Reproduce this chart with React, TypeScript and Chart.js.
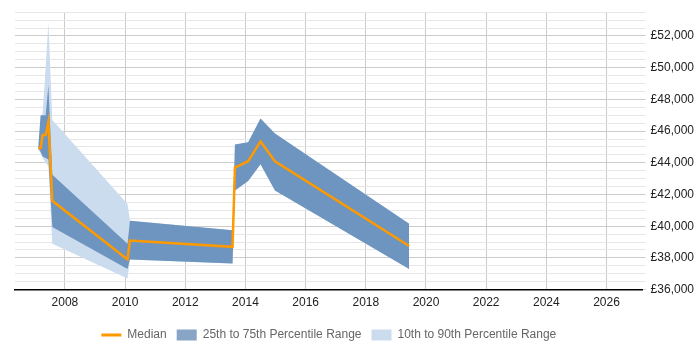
import React, { useEffect, useRef } from "react";
import { Chart, registerables } from "chart.js";

Chart.register(...registerables);

const years = [2007.11, 2007.19, 2007.26, 2007.36, 2007.45, 2007.58, 2010.08, 2010.16, 2013.57, 2013.65, 2014.09, 2014.5, 2014.98, 2019.44];
const median = [44920, 44920, 45750, 45750, 46580, 41600, 37900, 39100, 38700, 43700, 44100, 45350, 44100, 38750];
const p75 = [44920, 47000, 47000, 47000, 48900, 43250, 38900, 40350, 39750, 45150, 45300, 46800, 45850, 40150];
const p25 = [44920, 44700, 44400, 44300, 44200, 39950, 37300, 37900, 37650, 42250, 42850, 43900, 42250, 37300];
const p90 = [44920, 46500, 47200, 50000, 52900, 46700, 41400, 40350, 39750, 45150, 45300, 46800, 45850, 40150];
const p10 = [44920, 44600, 44300, 44000, 43800, 38900, 36700, 37900, 37650, 42250, 42850, 43900, 42250, 37300];

const xTicks = [2008, 2010, 2012, 2014, 2016, 2018, 2020, 2022, 2024, 2026];
const yMin = 36000;
const yMax = 53500;
const yStep = 500;
const yLabelStep = 2000;

const legendLabels = ["Median", "25th to 75th Percentile Range", "10th to 90th Percentile Range"];

const ORANGE = "#ff9900";
const DARK = "#6e95bf";
const LIGHT = "#cbdcee";
const DARK_LEGEND = "#88a5c6";
const FONT = "'Liberation Sans', Arial, sans-serif";

const pts = (vals: number[]) => years.map((x, i) => ({ x, y: vals[i] }));

export default function App() {
  const ref = useRef<HTMLCanvasElement | null>(null);
  useEffect(() => {
    if (!ref.current) return;
    const yTicks: number[] = [];
    for (let v = yMin; v <= yMax; v += yStep) yTicks.push(v);
    const chart = new Chart(ref.current, {
      type: "line",
      data: {
        datasets: [
          { label: legendLabels[0], data: pts(median), borderColor: ORANGE, borderWidth: 2.5, pointRadius: 0, fill: false, tension: 0 },
          { label: legendLabels[1], data: pts(p75), borderWidth: 0, pointRadius: 0, backgroundColor: DARK, fill: "+1", tension: 0 },
          { label: "p25", data: pts(p25), borderWidth: 0, pointRadius: 0, fill: false, tension: 0 },
          { label: legendLabels[2], data: pts(p90), borderWidth: 0, pointRadius: 0, backgroundColor: LIGHT, fill: "+1", tension: 0 },
          { label: "p10", data: pts(p10), borderWidth: 0, pointRadius: 0, fill: false, tension: 0 },
        ],
      },
      options: {
        responsive: false,
        animation: false,
        layout: { padding: { left: 15, top: 8, right: 1, bottom: -1 } },
        font: { family: FONT, size: 12 },
        plugins: {
          tooltip: { enabled: false },
          legend: {
            position: "bottom",
            fullSize: false,
            title: { display: true, text: " ", padding: 0, font: { size: 2.5, family: FONT } },
            labels: {
              usePointStyle: true,
              pointStyleWidth: 20,
              boxHeight: 11,
              padding: 10,
              color: "#222",
              font: { family: FONT, size: 12 },
              generateLabels: () => [
                { text: legendLabels[0], pointStyle: "line", strokeStyle: ORANGE, fillStyle: ORANGE, lineWidth: 3, datasetIndex: 0, hidden: false },
                { text: legendLabels[1], pointStyle: "rect", strokeStyle: DARK_LEGEND, fillStyle: DARK_LEGEND, lineWidth: 0, datasetIndex: 1, hidden: false },
                { text: legendLabels[2], pointStyle: "rect", strokeStyle: LIGHT, fillStyle: LIGHT, lineWidth: 0, datasetIndex: 3, hidden: false },
              ] as any,
            },
          },
        },
        scales: {
          x: {
            type: "linear",
            min: 2006.34,
            max: 2027.2,
            afterBuildTicks: (scale: any) => {
              scale.ticks = xTicks.map((v) => ({ value: v }));
            },
            ticks: {
              autoSkip: false,
              maxRotation: 0,
              color: "#222",
              padding: 6,
              font: { family: FONT, size: 12 },
              callback: (v: any) => String(v),
            },
            grid: { color: "#cccccc", tickLength: 0, drawTicks: false },
            border: { color: "#000000", width: 1.5 },
          },
          y: {
            type: "linear",
            position: "right",
            min: yMin,
            max: yMax,
            afterBuildTicks: (scale: any) => {
              scale.ticks = yTicks.map((v) => ({ value: v }));
            },
            ticks: {
              autoSkip: false,
              color: "#222",
              padding: 5,
              font: { family: FONT, size: 12 },
              callback: (v: any) => (Number(v) % yLabelStep === 0 ? "£" + Number(v).toLocaleString("en-GB") : ""),
            },
            grid: {
              color: (ctx: any) => (ctx.tick && ctx.tick.value % yLabelStep === 0 ? "#cccccc" : "#e6e6e6"),
              tickLength: 3,
            },
            border: { display: false },
          },
        },
      },
    });
    return () => chart.destroy();
  }, []);
  return (
    <div style={{ position: "fixed", left: 0, top: 0, width: 700, height: 350, background: "#fff" }}>
      <canvas ref={ref} width={700} height={350} style={{ width: 700, height: 350 }} />
    </div>
  );
}
